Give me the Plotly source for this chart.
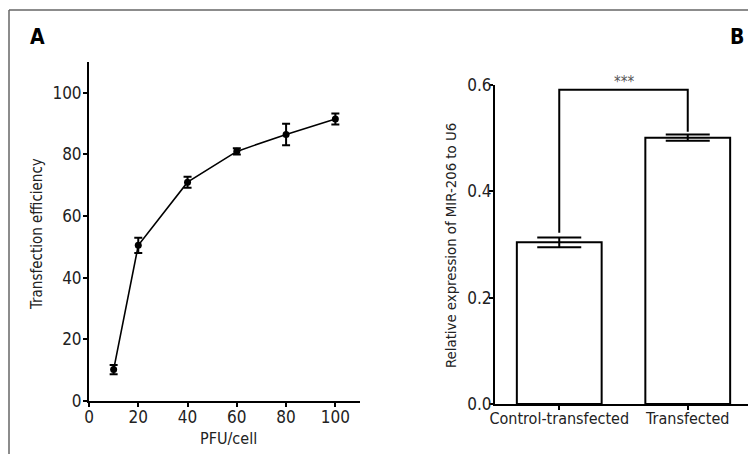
import plotly.graph_objects as go

# Panel A data
pfu = [10, 20, 40, 60, 80, 100]
efficiency = [10.2, 50.5, 71.0, 81.0, 86.5, 91.5]
efficiency_err = [1.5, 2.5, 1.8, 1.0, 3.5, 1.8]
a_yticks = [0, 20, 40, 60, 80, 100]
a_xticks = [0, 20, 40, 60, 80, 100]

# Panel B data
groups = ["Control-transfected", "Transfected"]
expression = [0.304, 0.501]
expression_err = [0.009, 0.006]
b_yticks = [0.0, 0.2, 0.4, 0.6]
significance = "***"

OFF = 8  # page body margin
W, H = 756 - OFF, 454 - OFF
FONT = "Liberation Sans Narrow, DejaVu Sans Condensed, Arial Narrow, sans-serif"

def px(x):
    return (x - OFF) / W

def py(y):
    return 1 - (y - OFF) / H

fig = go.Figure()

fig.add_trace(go.Scatter(
    x=pfu, y=efficiency, mode="lines+markers",
    line=dict(color="black", width=1.6),
    marker=dict(color="black", size=7),
    error_y=dict(type="data", array=efficiency_err, color="black", thickness=2, width=4),
    xaxis="x", yaxis="y", showlegend=False,
))

fig.add_trace(go.Bar(
    x=[0, 1], y=expression, width=0.66,
    marker=dict(color="white", line=dict(color="black", width=2)),
    error_y=dict(type="data", array=expression_err, color="black", thickness=2, width=22),
    xaxis="x2", yaxis="y2", showlegend=False,
))

# significance bracket derived from data
top = max(expression) + 0.09
bx = [0, 0, 1, 1]
by = [expression[0] + expression_err[0] + 0.009, top, top, expression[1] + expression_err[1] + 0.005]
fig.add_trace(go.Scatter(
    x=bx, y=by, mode="lines", line=dict(color="black", width=2),
    xaxis="x2", yaxis="y2", showlegend=False,
))

axis_common = dict(
    showline=True, linecolor="black", linewidth=2, ticks="outside",
    ticklen=4, tickwidth=1.5, tickcolor="black", showgrid=False, zeroline=False,
    tickfont=dict(family=FONT, size=17, color="#222"), automargin=False,
)

fig.update_layout(
    width=W, height=H,
    margin=dict(l=0, r=0, t=0, b=0),
    paper_bgcolor="white", plot_bgcolor="white",
    xaxis=dict(domain=[px(89), px(360)], range=[0, 110], tickvals=a_xticks,
               anchor="y", ticklabelstandoff=-4, **axis_common),
    yaxis=dict(domain=[py(401), py(62)], range=[0, 110], tickvals=a_yticks,
               anchor="x", ticklabelstandoff=-2, **axis_common),
    xaxis2=dict(domain=[px(495), px(752)], range=[-0.5, 1.5], tickvals=[0, 1],
                ticktext=groups, anchor="y2", ticklabelstandoff=-5, **axis_common),
    yaxis2=dict(domain=[py(404), py(85)], range=[0, 0.6], tickvals=b_yticks,
                tickformat=".1f", anchor="x2", ticklabelstandoff=-6, **axis_common),
)
fig.update_xaxes(tickfont=dict(family=FONT, size=16, color="#222"), selector=dict(anchor="y2"))

center = dict(xanchor="center", yanchor="middle", showarrow=False, xref="paper", yref="paper")
ann = []
ann.append(dict(text="<b>A</b>", x=px(37), y=py(37),
                font=dict(family=FONT, size=21, color="black"), **center))
ann.append(dict(text="<b>B</b>", x=px(737), y=py(37),
                font=dict(family=FONT, size=21, color="black"), **center))
ann.append(dict(text="Transfection efficiency", x=px(37), y=py(234), textangle=-90,
                font=dict(family=FONT, size=15, color="#222"), **center))
ann.append(dict(text="PFU/cell", x=px(228), y=py(438),
                font=dict(family=FONT, size=16, color="#222"), **center))
ann.append(dict(text="Relative expression of MIR-206 to U6", x=px(450), y=py(246), textangle=-90,
                font=dict(family=FONT, size=14.8, color="#222"), **center))
ann.append(dict(text=significance, x=0.5, y=top, xref="x2", yref="y2", xanchor="center", yanchor="bottom",
                yshift=-3, showarrow=False, font=dict(family=FONT, size=15, color="#555")))
fig.update_layout(annotations=ann)

# frame
fig.add_shape(type="line", xref="paper", yref="paper", x0=px(9), x1=1, y0=py(10), y1=py(10),
              line=dict(color="#666", width=1.5))
fig.add_shape(type="line", xref="paper", yref="paper", x0=px(9), x1=px(9), y0=py(10), y1=0,
              line=dict(color="#666", width=1.5))

fig.write_html("out.html")
